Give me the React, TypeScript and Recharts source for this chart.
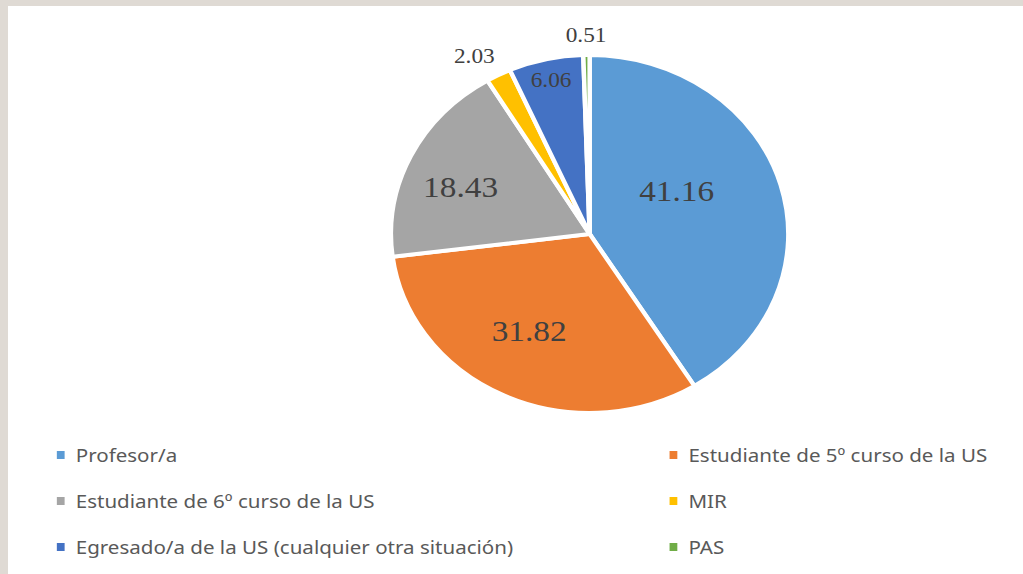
import { PieChart, Pie, Cell, Legend } from "recharts";

const NAMES = [
  "Profesor/a",
  "Estudiante de 5º curso de la US",
  "Estudiante de 6º curso de la US",
  "MIR",
  "Egresado/a de la US (cualquier otra situación)",
  "PAS",
];
const VALUES = [41.16, 31.82, 18.43, 2.03, 6.06, 0.51];
const COLORS = ["#5b9bd5", "#ed7d31", "#a5a5a5", "#ffc000", "#4472c4", "#70ad47"];

// label placement, roughly how Excel put them
const LABEL_RADIUS = [0.5, 0.62, 0.7, 1.15, 0.88, 1.11];
const LABEL_SHIFT = [-13, 4, -4, -3, 0, 0];

const data = NAMES.map((name, i) => ({ name, value: VALUES[i] }));

const RAD = Math.PI / 180;
const STRETCH = 1.11;

const renderLabel = (props: any) => {
  const { cx, cy, midAngle, outerRadius, index, value, percent } = props;
  const r = outerRadius * LABEL_RADIUS[index];
  const a = (midAngle - LABEL_SHIFT[index]) * RAD;
  const x = cx + r * Math.cos(-a);
  const y = cy + r * Math.sin(-a);
  return (
    <text
      x={x}
      y={y}
      fill="#404040"
      textAnchor="middle"
      dominantBaseline="central"
      fontFamily="'Liberation Serif', serif"
      fontSize={percent > 0.1 ? 30 : 21}>
      {Number(value).toFixed(2)}
    </text>
  );
};

const renderLegend = (props: any) => {
  const payload = [...(props.payload || [])].sort(
    (a: any, b: any) => NAMES.indexOf(a.value) - NAMES.indexOf(b.value)
  );
  return (
    <div
      style={{
        display: "grid",
        gridTemplateColumns: "552px auto",
        fontFamily: "'Noto Sans', sans-serif",
        fontSize: 18.5,
        color: "#595959",
        lineHeight: "46px",
      }}>
      {payload.map((entry: any, i: number) => (
        <div key={`leg-${i}`} style={{ display: "flex", alignItems: "center", whiteSpace: "nowrap" }}>
          <span
            style={{
              display: "inline-block",
              width: 7,
              height: 8,
              background: entry.color,
              marginRight: 10,
            }}
          />
          {entry.value}
        </div>
      ))}
    </div>
  );
};

export default function App() {
  return (
    <div
      style={{
        position: "absolute",
        left: 0,
        top: 0,
        width: 1023,
        height: 574,
        background: "#dfdad4",
        overflow: "hidden",
      }}>
      <div
        style={{
          position: "absolute",
          left: 8,
          top: 6,
          width: 1015,
          height: 568,
          background: "#ffffff",
          overflow: "hidden",
        }}>
        <div style={{ transform: `scaleX(${STRETCH})`, transformOrigin: "0 0" }}>
          <PieChart width={914} height={568} margin={{ top: 0, right: 0, bottom: 0, left: 0 }}>
            <Pie
              data={data}
              dataKey="value"
              nameKey="name"
              cx={524}
              cy={228}
              outerRadius={179}
              startAngle={90}
              endAngle={-270}
              stroke="#ffffff"
              strokeWidth={4}
              labelLine={false}
              label={renderLabel}
              isAnimationActive={false}>
              {data.map((_, i) => (
                <Cell key={`cell-${i}`} fill={COLORS[i]} />
              ))}
            </Pie>
            <Legend
              content={renderLegend}
              wrapperStyle={{ position: "absolute", left: 44, top: 426, width: 860, height: 140 }}
            />
          </PieChart>
        </div>
      </div>
    </div>
  );
}
